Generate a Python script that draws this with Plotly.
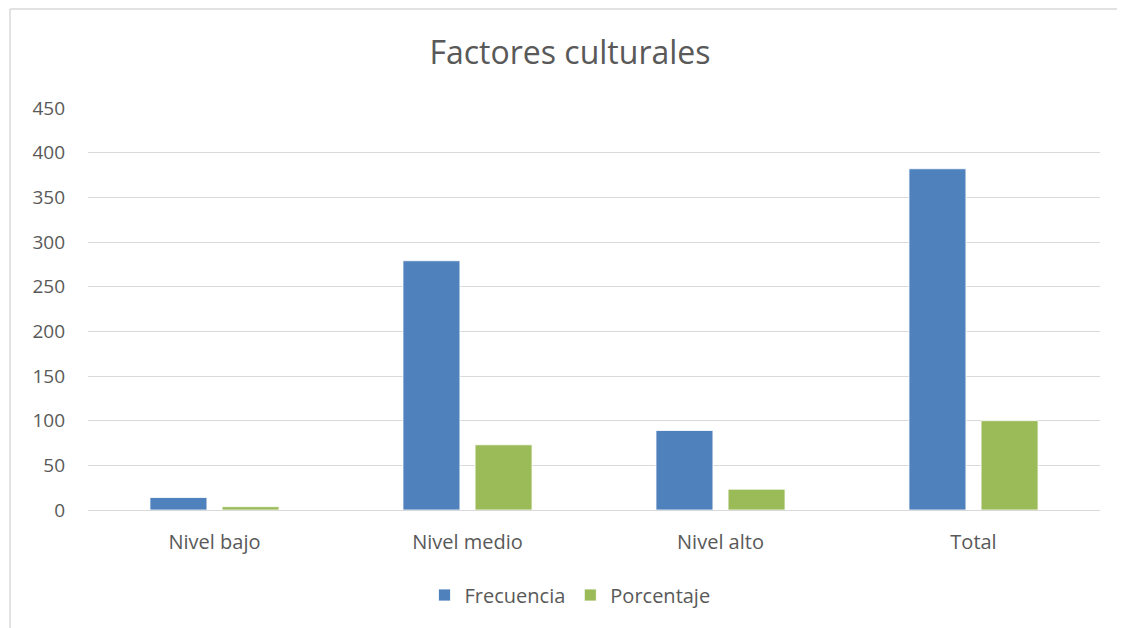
import plotly.graph_objects as go

categories = ["Nivel bajo", "Nivel medio", "Nivel alto", "Total"]
frecuencia = [14, 279, 89, 382]
porcentaje = [3.7, 73.0, 23.3, 100.0]
y_ticks = [0, 50, 100, 150, 200, 250, 300, 350, 400, 450]

# page body has an 8px margin; figure coordinates are compensated
OFF = 8
W, H = 1125 - OFF, 628 - OFF
L, R, T, B = 88 - OFF, 25, 108 - OFF, 118
pw, ph = W - L - R, H - T - B

FONT = "Open Sans"
TXT = "#595959"

fig = go.Figure()
fig.add_trace(go.Bar(name="Frecuencia", x=categories, y=frecuencia,
                     marker=dict(color="#4F81BD", line=dict(color="#FFFFFF", width=0.8))))
fig.add_trace(go.Bar(name="Porcentaje", x=categories, y=porcentaje,
                     marker=dict(color="#9BBB59", line=dict(color="#FFFFFF", width=0.8))))

def px_x(p):
    return (p - OFF - L) / pw

def px_y(p):
    return (H - B - (p - OFF)) / ph

fig.update_layout(
    width=W, height=H,
    margin=dict(l=L, r=R, t=T, b=B, autoexpand=False),
    paper_bgcolor="white", plot_bgcolor="white",
    barmode="group", bargap=0.43, bargroupgap=0.21,
    title=dict(text="Factores culturales", x=px_x(570), xanchor="center",
               xref="paper",
               y=1 - (53 - OFF) / H, yanchor="middle",
               font=dict(family=FONT, size=32, color=TXT)),
    font=dict(family=FONT, size=19, color=TXT),
    legend=dict(orientation="h", x=px_x(570), xanchor="center",
                y=px_y(595), yanchor="middle",
                font=dict(family=FONT, size=20, color=TXT),
                itemwidth=30, traceorder="normal"),
    xaxis=dict(showgrid=False, showline=True, linecolor="#D9D9D9", linewidth=1,
               ticks="", tickfont=dict(family=FONT, size=20, color=TXT),
               ticklabelstandoff=14),
    yaxis=dict(range=[0, 450], tickvals=y_ticks, showgrid=True, gridcolor="#D9D9D9",
               gridwidth=1, zeroline=False, showline=False, ticks="",
               tickfont=dict(family=FONT, size=19, color=TXT),
               ticklabelstandoff=22),
    shapes=[
        dict(type="line", xref="paper", yref="paper",
             x0=px_x(10), x1=px_x(1200), y0=px_y(9), y1=px_y(9),
             line=dict(color="#D9D9D9", width=1.5)),
        dict(type="line", xref="paper", yref="paper",
             x0=px_x(10), x1=px_x(10), y0=px_y(9), y1=px_y(700),
             line=dict(color="#D9D9D9", width=1.5)),
    ],
)

fig.write_html("out.html")
